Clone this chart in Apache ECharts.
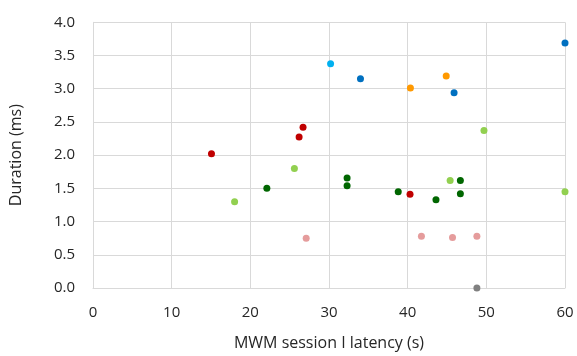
<!DOCTYPE html>
<html><head><meta charset="utf-8">
<script src="https://cdn.jsdelivr.net/npm/echarts@6/dist/echarts.min.js"></script>
<style>html,body{margin:0;padding:0;background:#fff}#c{width:577px;height:356px}</style>
</head><body><div id="c"></div>
<script>
const xTicks = [0, 10, 20, 30, 40, 50, 60];
const yTicks = [0.0, 0.5, 1.0, 1.5, 2.0, 2.5, 3.0, 3.5, 4.0];
const lightBlue = [[30.2, 3.375]];
const blue = [[34.0, 3.15], [45.9, 2.94], [60.0, 3.69]];
const orange = [[40.35, 3.01], [44.9, 3.19]];
const red = [[15.06, 2.02], [26.2, 2.275], [26.7, 2.42], [40.3, 1.41]];
const lightGreen = [[18.0, 1.30], [25.6, 1.80], [45.4, 1.62], [49.7, 2.37], [60.0, 1.45]];
const darkGreen = [[22.1, 1.50], [32.3, 1.655], [32.3, 1.54], [38.8, 1.45], [43.6, 1.33], [46.7, 1.62], [46.7, 1.42]];
const pink = [[27.1, 0.75], [41.75, 0.78], [45.7, 0.76], [48.8, 0.78]];
const gray = [[48.8, 0.0]];

const groups = [
  {name: 'lightBlue', data: lightBlue, color: '#00B0F0'},
  {name: 'blue', data: blue, color: '#0070C0'},
  {name: 'orange', data: orange, color: '#FF9900'},
  {name: 'red', data: red, color: '#C00000'},
  {name: 'lightGreen', data: lightGreen, color: '#92D050'},
  {name: 'darkGreen', data: darkGreen, color: '#006600'},
  {name: 'pink', data: pink, color: '#E59C9C'},
  {name: 'gray', data: gray, color: '#808080'}
];

const chart = echarts.init(document.getElementById('c'), null, {renderer: 'canvas'});
const FF = 'Open Sans, Liberation Sans, sans-serif';
const lab = {color: '#262626', fontFamily: FF, fontSize: 15};
chart.setOption({
  animation: false,
  grid: {left: 92.3, right: 12, top: 22.3, bottom: 64.7},
  xAxis: {
    type: 'value', min: xTicks[0], max: xTicks[xTicks.length - 1], interval: 10,
    name: 'MWM session I latency (s)', nameLocation: 'middle', nameGap: 47,
    nameTextStyle: {color: '#262626', fontFamily: FF, fontSize: 16},
    axisLine: {show: true, lineStyle: {color: '#D9D9D9', width: 1}},
    axisTick: {show: false},
    axisLabel: Object.assign({margin: 17}, lab),
    splitLine: {show: true, lineStyle: {color: '#D9D9D9', width: 1}}
  },
  yAxis: {
    type: 'value', min: yTicks[0], max: yTicks[yTicks.length - 1], interval: 0.5,
    name: 'Duration (ms)', nameLocation: 'middle', nameGap: 69, nameRotate: 90,
    nameTextStyle: {color: '#262626', fontFamily: FF, fontSize: 16},
    axisLine: {show: true, lineStyle: {color: '#D9D9D9', width: 1}},
    axisTick: {show: false},
    axisLabel: Object.assign({margin: 18, formatter: v => v.toFixed(1)}, lab),
    splitLine: {show: true, lineStyle: {color: '#D9D9D9', width: 1}}
  },
  series: groups.map(g => ({
    name: g.name, type: 'scatter', data: g.data, symbol: 'circle', symbolSize: 7,
    itemStyle: {color: g.color, opacity: 1}
  }))
});
</script></body></html>
